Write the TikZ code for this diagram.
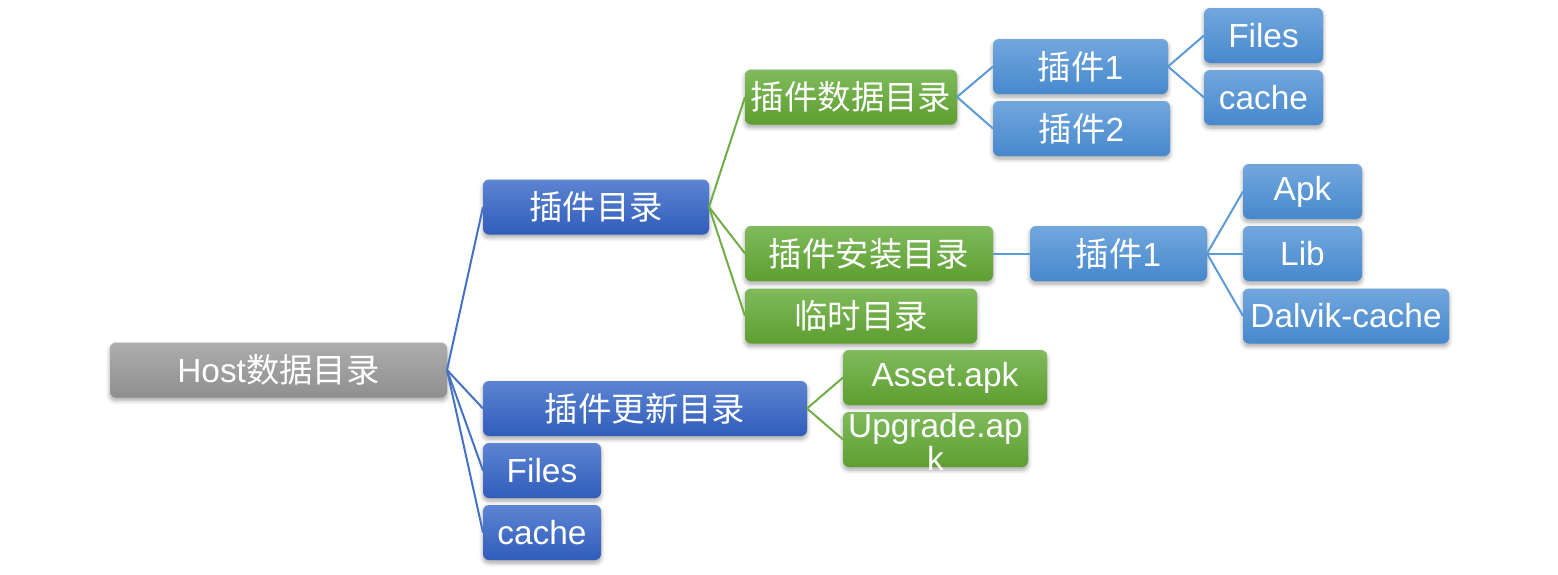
\documentclass[tikz,border=0pt]{standalone}
\usepackage{fontspec}
\setmainfont{Liberation Sans}
\newfontfamily\cjk{Noto Sans CJK SC}
\usetikzlibrary{shadows.blur}
\definecolor{grayT}{HTML}{ADADAD}
\definecolor{grayB}{HTML}{8F8F8F}
\definecolor{dblueT}{HTML}{5C84D2}
\definecolor{dblueB}{HTML}{315DBB}
\definecolor{greenT}{HTML}{80BA5C}
\definecolor{greenB}{HTML}{5E9E30}
\definecolor{lblueT}{HTML}{72A7DD}
\definecolor{lblueB}{HTML}{4688CD}
\definecolor{lineblue}{HTML}{4472C4}
\definecolor{linegreen}{HTML}{70AD47}
\definecolor{linelblue}{HTML}{5B9BD5}
\tikzset{
  box/.style={rounded corners=3pt, inner sep=0pt, outer sep=0pt,
    minimum height=27.5pt, text=white, font=\fontsize{16.7}{17}\selectfont,
    blur shadow={shadow xshift=0pt, shadow yshift=-1.5pt, shadow blur steps=6, shadow opacity=35}},
  w/.style={minimum width=#1*0.5pt},
  graybox/.style={box, top color=grayT, bottom color=grayB},
  dbox/.style={box, top color=dblueT, bottom color=dblueB},
  gbox/.style={box, top color=greenT, bottom color=greenB},
  lbox/.style={box, top color=lblueT, bottom color=lblueB},
  lb/.style={draw=lineblue, line width=1pt},
  lg/.style={draw=linegreen, line width=1pt},
  ll/.style={draw=linelblue, line width=1pt},
}
\begin{document}
\begin{tikzpicture}[x=0.5pt,y=-0.5pt]
\useasboundingbox (0,0) rectangle (1558,574);
% level 0
\node[graybox, w=337] (host) at (278.5,370) {Host{\cjk 数据目录}};
% level 1
\node[dbox, w=226] (pdir) at (596,207) {\cjk 插件目录};
\node[dbox, w=324] (pupd) at (645,408.5) {\cjk 插件更新目录};
\node[dbox, w=118] (files) at (542,470.5) {Files};
\node[dbox, w=118] (cache) at (542,532.5) {cache};
% level 2
\node[gbox, w=212] (pdata) at (851,97) {\cjk 插件数据目录};
\node[gbox, w=248] (pinst) at (869,253.5) {\cjk 插件安装目录};
\node[gbox, w=232] (ptmp) at (861,316) {\cjk 临时目录};
\node[gbox, w=204] (asset) at (945,377.5) {Asset.apk};
\node[gbox, w=185] (upg) at (935.5,439.5) {};
\node[text=white, font=\fontsize{16.7}{16.5}\selectfont, align=center, inner sep=0pt] (upgt) at (935.5,442) {Upgrade.ap\\k};
% level 3
\node[lbox, w=175] (p1a) at (1080.5,66.5) {{\cjk 插件}1};
\node[lbox, w=177] (p2a) at (1081.5,128.5) {{\cjk 插件}2};
\node[lbox, w=177] (p1b) at (1118.5,253.5) {{\cjk 插件}1};
% level 4
\node[lbox, w=119] (files2) at (1263.5,35.5) {Files};
\node[lbox, w=119] (cache2) at (1263.5,97.5) {cache};
\node[lbox, w=119] (apk) at (1302.5,191.5) {Apk};
\node[lbox, w=119] (lib) at (1302.5,253.5) {Lib};
\node[lbox, w=206] (dalvik) at (1346,316) {Dalvik-cache};
% connectors
\draw[lb] (host.east) -- (pdir.west);
\draw[lb] (host.east) -- (pupd.west);
\draw[lb] (host.east) -- (files.west);
\draw[lb] (host.east) -- (cache.west);
\draw[lg] (pdir.east) -- (pdata.west);
\draw[lg] (pdir.east) -- (pinst.west);
\draw[lg] (pdir.east) -- (ptmp.west);
\draw[lg] (pupd.east) -- (asset.west);
\draw[lg] (pupd.east) -- (upg.west);
\draw[ll] (pdata.east) -- (p1a.west);
\draw[ll] (pdata.east) -- (p2a.west);
\draw[ll] (p1a.east) -- (files2.west);
\draw[ll] (p1a.east) -- (cache2.west);
\draw[ll] (pinst.east) -- (p1b.west);
\draw[ll] (p1b.east) -- (apk.west);
\draw[ll] (p1b.east) -- (lib.west);
\draw[ll] (p1b.east) -- (dalvik.west);
\end{tikzpicture}
\end{document}
